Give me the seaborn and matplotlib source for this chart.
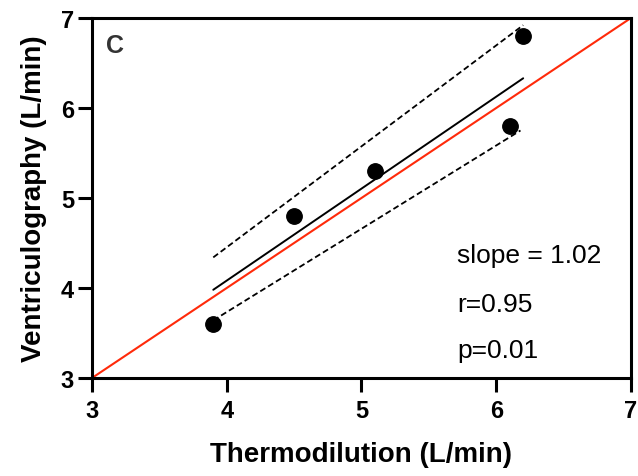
import numpy as np
import pandas as pd
import matplotlib
matplotlib.use("Agg")
import matplotlib.pyplot as plt
import seaborn as sns

# data
thermo = [3.9, 4.5, 5.1, 6.1, 6.2]
ventric = [3.6, 4.8, 5.3, 5.8, 6.8]

fit_x = [3.9, 6.2]
fit_y = [3.98, 6.33]
upper_x = [3.9, 6.2]
upper_y = [4.34, 6.92]
lower_x = [3.9, 6.18]
lower_y = [3.64, 5.75]
identity = [3, 7]

ticks = [3, 4, 5, 6, 7]
stats_lines = ["slope = 1.02", "r=0.95", "p=0.01"]
stats_y = [4.29, 3.74, 3.23]

sns.set_style("ticks")
plt.rcParams["font.family"] = ["Liberation Sans", "DejaVu Sans"]
plt.rcParams["text.color"] = "black"
plt.rcParams["axes.labelcolor"] = "black"

fig = plt.figure(figsize=(6.38, 4.77), dpi=100)
ax = fig.add_axes([0.1442, 0.2055, 0.8448, 0.7547])

df = pd.DataFrame({"Thermodilution": thermo, "Ventriculography": ventric})

ax.plot(identity, identity, color="#ff2a0a", lw=1.5, zorder=2, clip_on=False)
ax.plot(fit_x, fit_y, color="black", lw=1.4, zorder=3)
ax.plot(upper_x, upper_y, color="black", lw=1.3, ls=(0, (3.3, 1.8)), zorder=3)
ax.plot(lower_x, lower_y, color="black", lw=1.3, ls=(0, (3.3, 1.8)), zorder=3)
sns.scatterplot(data=df, x="Thermodilution", y="Ventriculography", ax=ax,
                s=125, color="black", edgecolor="black", zorder=4)

ax.set_xlim(3, 7)
ax.set_ylim(3, 7)
ax.set_xticks(ticks)
ax.set_yticks(ticks)
ax.set_xticklabels([str(t) for t in ticks], fontsize=17, fontweight="bold")
ax.set_yticklabels([str(t) for t in ticks], fontsize=17, fontweight="bold")
ax.tick_params(axis="both", length=10, width=2.2, direction="out", colors="black")
ax.tick_params(axis="x", pad=5)
ax.tick_params(axis="y", pad=3)

for side in ["top", "right", "bottom", "left"]:
    ax.spines[side].set_linewidth(2.2)
    ax.spines[side].set_color("black")

ax.set_xlabel("Thermodilution (L/min)", fontsize=20, fontweight="bold",
              labelpad=14, color="black")
ax.set_ylabel("Ventriculography (L/min)", fontsize=20, fontweight="bold",
              labelpad=10, color="black")

ax.text(0.026, 0.906, "C", transform=ax.transAxes, fontsize=18, fontweight="bold",
        color="#333333", va="baseline", ha="left")

for line, yv in zip(stats_lines, stats_y):
    ax.text(5.71, yv, line, fontsize=19, color="black", va="baseline", ha="left")

fig.savefig("out.png", dpi=100)
